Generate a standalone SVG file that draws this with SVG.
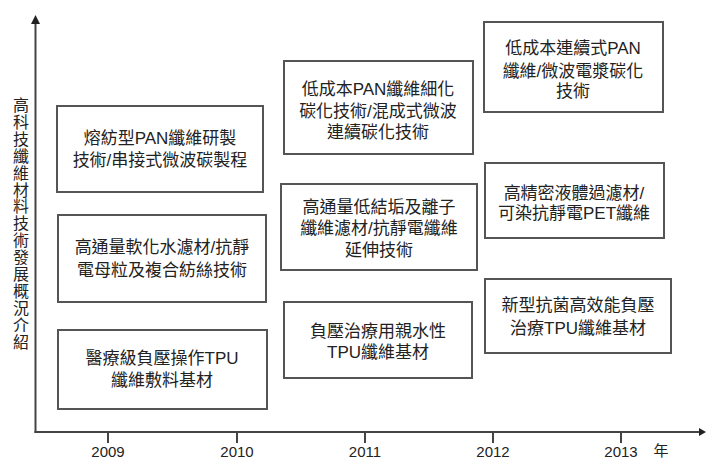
<svg xmlns="http://www.w3.org/2000/svg" width="706" height="461" viewBox="0 0 706 461">
<style>
.box{fill:#fff;stroke:#555;stroke-width:2}
.t{font-family:"Liberation Sans","Noto Sans CJK TC",sans-serif;font-size:17px;fill:#222;text-anchor:middle}
.ax{stroke:#444;stroke-width:2;fill:none}
.yr{font-family:"Liberation Sans","Noto Sans CJK TC",sans-serif;font-size:15px;fill:#222;text-anchor:middle}
</style>
<rect width="706" height="461" fill="#fff"/>
<g id="axes">
<line class="ax" x1="35.5" y1="433" x2="35.5" y2="22"/>
<polygon points="35.5,15 31,24 40,24" fill="#222"/>
<line class="ax" x1="34.5" y1="432" x2="700" y2="432"/>
<polygon points="706,432 699,428 699,436" fill="#222"/>
<line class="ax" x1="108" y1="432" x2="108" y2="443"/>
<line class="ax" x1="237" y1="432" x2="237" y2="443"/>
<line class="ax" x1="365" y1="432" x2="365" y2="443"/>
<line class="ax" x1="493" y1="432" x2="493" y2="443"/>
<line class="ax" x1="621" y1="432" x2="621" y2="443"/>
<text class="yr" x="108" y="457">2009</text>
<text class="yr" x="237" y="457">2010</text>
<text class="yr" x="365" y="457">2011</text>
<text class="yr" x="493" y="457">2012</text>
<text class="yr" x="621" y="457">2013</text>
<text class="yr" x="661" y="456">年</text>
<text x="21" y="97" font-family="'Noto Sans CJK TC',sans-serif" font-size="16" fill="#222" writing-mode="vertical-rl" style="writing-mode:vertical-rl" letter-spacing="0.9">高科技纖維材料技術發展概況介紹</text>
</g>
<g id="n1"><rect class="box" x="57" y="106" width="206" height="86"/>
<text class="t" x="160" y="144">熔紡型PAN纖維研製</text><text class="t" x="160" y="166">技術/串接式微波碳製程</text></g>
<g id="n2"><rect class="box" x="58" y="215" width="208" height="87"/>
<text class="t" x="162" y="253">高通量軟化水濾材/抗靜</text><text class="t" x="162" y="276">電母粒及複合紡絲技術</text></g>
<g id="n3"><rect class="box" x="58" y="330" width="209" height="79"/>
<text class="t" x="162" y="364">醫療級負壓操作TPU</text><text class="t" x="162" y="386">纖維敷料基材</text></g>
<g id="n4"><rect class="box" x="284" y="61" width="189" height="93"/>
<text class="t" x="378" y="95">低成本PAN纖維細化</text><text class="t" x="378" y="117">碳化技術/混成式微波</text><text class="t" x="378" y="138">連續碳化技術</text></g>
<g id="n5"><rect class="box" x="281" y="184" width="196" height="86"/>
<text class="t" x="379" y="213">高通量低結垢及離子</text><text class="t" x="379" y="234">纖維濾材/抗靜電纖維</text><text class="t" x="379" y="256">延伸技術</text></g>
<g id="n6"><rect class="box" x="284" y="302" width="188" height="76"/>
<text class="t" x="378" y="337">負壓治療用親水性</text><text class="t" x="378" y="358">TPU纖維基材</text></g>
<g id="n7"><rect class="box" x="484" y="22" width="179" height="90"/>
<text class="t" x="573" y="54">低成本連續式PAN</text><text class="t" x="573" y="77">纖維/微波電漿碳化</text><text class="t" x="573" y="97">技術</text></g>
<g id="n8"><rect class="box" x="485" y="163" width="179" height="75"/>
<text class="t" x="574" y="199">高精密液體過濾材/</text><text class="t" x="574" y="219">可染抗靜電PET纖維</text></g>
<g id="n9"><rect class="box" x="485" y="279" width="186" height="74"/>
<text class="t" x="578" y="311">新型抗菌高效能負壓</text><text class="t" x="578" y="334">治療TPU纖維基材</text></g>
</svg>
